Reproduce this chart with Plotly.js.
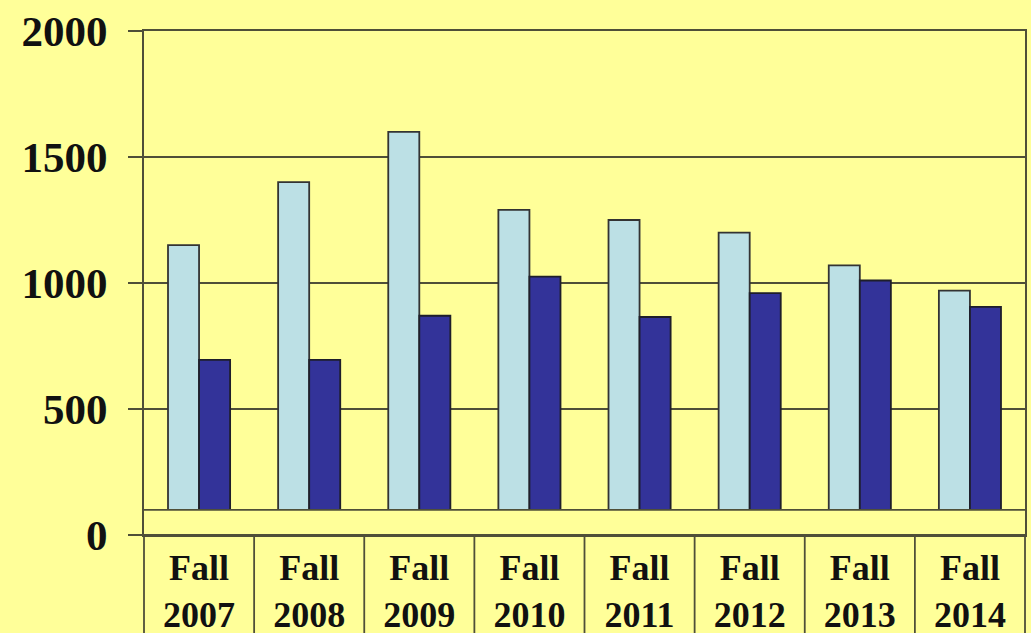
<!DOCTYPE html>
<html>
<head>
<meta charset="utf-8">
<script src="https://cdn.plot.ly/plotly-3.0.1.min.js"></script>
<style>
  html, body { margin: 0; padding: 0; background: #FFFF99; }
  #chart { width: 1031px; height: 633px; }
</style>
</head>
<body>
<div id="chart"></div>
<script>
// ---- data ----
const categories = ["Fall<br>2007", "Fall<br>2008", "Fall<br>2009", "Fall<br>2010",
                    "Fall<br>2011", "Fall<br>2012", "Fall<br>2013", "Fall<br>2014"];
const seriesLight = [1150, 1400, 1600, 1290, 1250, 1200, 1070, 970];
const seriesDark  = [695, 695, 870, 1025, 865, 960, 1010, 905];
const yTickVals   = [0, 500, 1000, 1500, 2000];
const yTickText   = ["0", "500", "1000", "1500", "2000"];

// ---- styles ----
const bg = '#FFFF99';
const lineCol = '#4f4f38';
const fontFam = '"Liberation Serif", "Times New Roman", serif';

const traces = [
  {
    type: 'bar', x: categories, y: seriesLight, name: 'A',
    marker: { color: '#BCE0E5', line: { color: '#333333', width: 1.8 } },
    hoverinfo: 'y'
  },
  {
    type: 'bar', x: categories, y: seriesDark, name: 'B',
    marker: { color: '#333399', line: { color: '#1e1e2a', width: 1.8 } },
    hoverinfo: 'y'
  }
];

const shapes = [];
// cover bar feet below floor line
shapes.push({ type: 'rect', xref: 'paper', yref: 'y', x0: 0, x1: 1, y0: 0, y1: 100,
              fillcolor: bg, line: { width: 0 }, layer: 'above' });
shapes.push({ type: 'line', xref: 'paper', yref: 'y', x0: 0, x1: 1, y0: 100, y1: 100,
              line: { color: lineCol, width: 1.8 }, layer: 'above' });
shapes.push({ type: 'line', xref: 'paper', yref: 'y', x0: 0, x1: 1, y0: 0, y1: 0,
              line: { color: lineCol, width: 1.8 }, layer: 'above' });
// table separators below the plot
for (let i = 0; i <= categories.length; i++) {
  shapes.push({ type: 'line', xref: 'paper', yref: 'paper',
                x0: i / categories.length, x1: i / categories.length, y0: 0, y1: -0.25,
                line: { color: lineCol, width: 1.8 }, layer: 'above' });
}

const layout = {
  width: 1031, height: 633,
  margin: { l: 144, r: 6, t: 31, b: 98, pad: 0 },
  paper_bgcolor: bg, plot_bgcolor: bg,
  showlegend: false,
  barmode: 'group', bargap: 0.436, bargroupgap: 0,
  xaxis: {
    type: 'category',
    showgrid: false, zeroline: false,
    showline: true, linecolor: lineCol, linewidth: 1.8, mirror: true,
    ticks: '',
    ticklabelstandoff: 0,
    tickfont: { family: fontFam, size: 36, color: '#111', weight: 'bold' },
    fixedrange: true
  },
  yaxis: {
    range: [0, 2000],
    tickvals: yTickVals, ticktext: yTickText,
    showgrid: true, gridcolor: lineCol, gridwidth: 1.8,
    zeroline: false,
    showline: true, linecolor: lineCol, linewidth: 1.8, mirror: true,
    ticks: 'outside', ticklen: 14, tickwidth: 1.8, tickcolor: lineCol,
    ticklabelstandoff: 12,
    tickfont: { family: fontFam, size: 43, color: '#111', weight: 'bold' },
    fixedrange: true
  },
  shapes: shapes
};

Plotly.newPlot('chart', traces, layout, { displayModeBar: false, staticPlot: true });
</script>
</body>
</html>
